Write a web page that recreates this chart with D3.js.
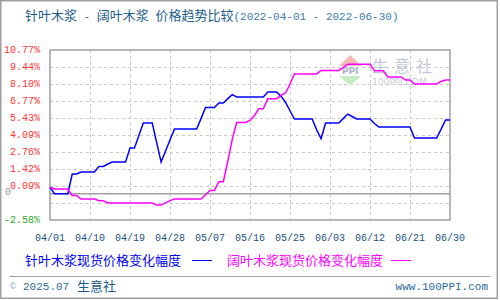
<!DOCTYPE html>
<html>
<head>
<meta charset="utf-8">
<script src="https://cdnjs.cloudflare.com/ajax/libs/d3/7.8.5/d3.min.js"></script>
<style>
	html, body { margin: 0; padding: 0; background: #fff; }
	svg { display: block; }
	.cjk { font-family: "Noto Sans CJK SC", sans-serif; }
	.mono { font-family: "Liberation Mono", "DejaVu Sans Mono", monospace; }
</style>
</head>
<body>
<div id="chart"></div>
<script>
/*jshint esversion: 6 */

// date range of the comparison
var startDate = "2022-04-01";
var endDate = "2022-06-30";

// series names
var seriesNames = ["针叶木浆现货价格变化幅度", "阔叶木浆现货价格变化幅度"];

// daily change in % since 04/01 (针叶木浆)
var softwood = [
	0.00, -0.51, -0.51, -0.51, -0.51, 1.03, 1.03, 1.19, 1.19, 1.19,
	1.19, 1.63, 1.63, 1.82, 1.97, 1.97, 1.97, 1.97, 3.07, 3.07,
	4.05, 5.04, 5.04, 5.04, 3.50, 1.97, 2.84, 3.70, 4.57, 4.57,
	4.57, 4.57, 4.57, 4.57, 5.40, 6.26, 6.26, 6.26, 6.61, 6.61,
	6.95, 7.26, 7.08, 7.08, 7.08, 7.08, 7.08, 7.08, 7.08, 7.47,
	7.47, 7.47, 7.13, 6.65, 6.00, 5.35, 5.35, 5.35, 5.35, 5.35,
	4.50, 3.80, 5.04, 5.04, 5.04, 5.04, 5.40, 5.74, 5.55, 5.35,
	5.35, 5.35, 5.35, 5.00, 4.72, 4.72, 4.72, 4.72, 4.72, 4.72,
	4.72, 4.72, 3.86, 3.86, 3.86, 3.86, 3.86, 3.86, 4.55, 5.27,
	5.27
];

// daily change in % since 04/01 (阔叶木浆)
var hardwood = [
	0.00, -0.15, -0.15, -0.15, -0.15, -0.65, -0.65, -0.93, -0.93, -0.93,
	-0.93, -1.06, -1.06, -1.24, -1.24, -1.24, -1.24, -1.24, -1.24, -1.24,
	-1.24, -1.24, -1.24, -1.24, -1.40, -1.40, -1.24, -1.06, -0.93, -0.93,
	-0.93, -0.93, -0.93, -0.93, -0.93, -0.60, -0.26, -0.26, 0.43, 0.43,
	2.02, 3.73, 5.08, 5.08, 5.08, 5.24, 5.63, 6.16, 6.16, 6.95,
	6.95, 6.95, 7.21, 7.39, 8.10, 8.89, 8.89, 8.89, 8.89, 8.89,
	8.89, 9.17, 9.17, 9.17, 9.17, 9.17, 9.40, 9.65, 9.65, 9.65,
	9.65, 9.65, 9.65, 9.14, 9.14, 9.14, 8.65, 8.65, 8.65, 8.65,
	8.41, 8.41, 8.10, 8.10, 8.10, 8.10, 8.10, 8.10, 8.30, 8.41,
	8.41
];

// y ticks (evenly spaced from min to max) and their labels
var yTicks = [-2.58, -1.245, 0.09, 1.425, 2.76, 4.095, 5.43, 6.765, 8.10, 9.435, 10.77];
var yLabels = ["-2.58%", "", "0.09%", "1.42%", "2.76%", "4.09%", "5.43%", "6.77%", "8.10%", "9.44%", "10.77%"];
// the "0" reference line sits here on the chart's own scale
var baseLine = -0.51;

// x tick labels, one every 9 days
var xLabels = ["04/01", "04/10", "04/19", "04/28", "05/07", "05/16", "05/25", "06/03", "06/12", "06/21", "06/30"];


var width = 500, height = 300;
var plot = { left: 50, right: 450, top: 50, bottom: 220 };

var parse = d3.timeParse("%Y-%m-%d");
var t0 = parse(startDate), t1 = parse(endDate);
var days = softwood.map(function(d, i) { return d3.timeDay.offset(t0, i); });
var xTickDates = xLabels.map(function(d, i) { return d3.timeDay.offset(t0, i * 9); });

var xScale = d3.scaleTime().domain([t0, t1]).range([plot.left, plot.right]);
var yScale = d3.scaleLinear().domain([yTicks[0], yTicks[yTicks.length - 1]]).range([plot.bottom, plot.top]);

var svg = d3.select("#chart").append("svg")
	.attr("width", width)
	.attr("height", height);

// outer border
svg.append("rect")
	.attr("x", 0.75).attr("y", 0.75)
	.attr("width", 496.5).attr("height", 297.5)
	.attr("fill", "#fff")
	.attr("stroke", "#a0a0a0")
	.attr("stroke-width", 1.5);


//************ TITLE ************

var title = svg.append("text")
	.attr("x", 25).attr("y", 20)
	.attr("fill", "#1c5d8c");
title.append("tspan").attr("class", "cjk").attr("font-size", 13).text("针叶木浆");
title.append("tspan").attr("class", "mono").attr("font-size", 11).attr("xml:space", "preserve").text(" - ");
title.append("tspan").attr("class", "cjk").attr("font-size", 13).text("阔叶木浆");
title.append("tspan").attr("class", "mono").attr("font-size", 11).attr("xml:space", "preserve").text(" ");
title.append("tspan").attr("class", "cjk").attr("font-size", 13).text("价格趋势比较");
title.append("tspan").attr("class", "mono").attr("font-size", 11).attr("fill", "#3b7bb0")
	.attr("xml:space", "preserve")
	.text("(" + startDate + " - " + endDate + ")");


//************ GRID ************

var grid = svg.append("g").attr("class", "grid")
	.attr("stroke", "#c8c8c8")
	.attr("stroke-dasharray", "3,3")
	.attr("stroke-width", 1);

grid.selectAll(".h").data(yTicks.slice(1, -1)).enter().append("line")
	.attr("x1", plot.left).attr("x2", plot.right)
	.attr("y1", function(d) { return Math.round(yScale(d)) + 0.5; })
	.attr("y2", function(d) { return Math.round(yScale(d)) + 0.5; });

grid.selectAll(".v").data(xTickDates.slice(1, -1)).enter().append("line")
	.attr("y1", plot.top).attr("y2", plot.bottom)
	.attr("x1", function(d) { return Math.round(xScale(d)) + 0.5; })
	.attr("x2", function(d) { return Math.round(xScale(d)) + 0.5; });


//************ WATERMARK ************

var wm = svg.append("g").attr("class", "watermark");
wm.append("path").attr("d", "M339,66 L361.5,66 L350.2,55 Z").attr("fill", "#f6b9b2");
wm.append("path").attr("d", "M339,76 L361.5,76 L350.2,85.5 Z").attr("fill", "#c6ecc6");
wm.append("text").attr("x", 350.2).attr("y", 74).attr("text-anchor", "middle")
	.attr("font-family", "DejaVu Sans, sans-serif").attr("font-weight", "bold")
	.attr("font-size", 9).attr("fill", "#a9b1c9").text("PPI");
wm.append("text").attr("class", "cjk").attr("x", 372).attr("y", 72)
	.attr("font-size", 16).attr("letter-spacing", 6).attr("fill", "#c3c8dc").text("生意社");
wm.append("text").attr("x", 372).attr("y", 85)
	.attr("font-family", "DejaVu Sans, sans-serif")
	.attr("font-size", 9).attr("fill", "#c6cad8").text("100PPI.COM");


//************ FRAME AND ZERO LINE ************

svg.append("rect")
	.attr("x", plot.left).attr("y", plot.top)
	.attr("width", plot.right - plot.left).attr("height", plot.bottom - plot.top)
	.attr("fill", "none")
	.attr("stroke", "#a0a0a0")
	.attr("stroke-width", 1.5);

svg.append("line")
	.attr("x1", plot.left).attr("x2", plot.right)
	.attr("y1", yScale(baseLine)).attr("y2", yScale(baseLine))
	.attr("stroke", "#a0a0a0")
	.attr("stroke-width", 1.5);


//************ LINES ************

var line = d3.line()
	.x(function(d, i) { return xScale(days[i]); })
	.y(function(d) { return yScale(d); });

svg.append("path").datum(softwood)
	.attr("fill", "none").attr("stroke", "#0000ff").attr("stroke-width", 1.5)
	.attr("d", line);

svg.append("path").datum(hardwood)
	.attr("fill", "none").attr("stroke", "#ff00ff").attr("stroke-width", 1.5)
	.attr("d", line);


//************ AXES LABELS ************

svg.append("g").selectAll("text").data(yTicks).enter().append("text")
	.attr("class", "mono")
	.attr("x", 40)
	.attr("y", function(d) { return yScale(d) - 1; })
	.attr("dy", "0.35em")
	.attr("text-anchor", "end")
	.attr("font-size", 10)
	.attr("fill", function(d, i) { return i === 0 ? "#2ea62e" : "#ff3333"; })
	.text(function(d, i) { return yLabels[i]; });

svg.append("text").attr("class", "mono")
	.attr("x", 5).attr("y", yScale(baseLine) - 2.5).attr("dy", "0.35em")
	.attr("font-size", 10).attr("fill", "#999")
	.text("0");

svg.append("g").selectAll("text").data(xTickDates).enter().append("text")
	.attr("class", "mono")
	.attr("x", function(d) { return xScale(d); })
	.attr("y", 241)
	.attr("text-anchor", "middle")
	.attr("font-size", 10)
	.attr("fill", "#1a5284")
	.text(function(d, i) { return xLabels[i]; });


//************ LEGEND ************

var legendItems = [
	{ name: seriesNames[0], color: "#0000ff", x: 25, lx: 192 },
	{ name: seriesNames[1], color: "#ff00ff", x: 227, lx: 391 }
];
var legend = svg.append("g").selectAll("g").data(legendItems).enter().append("g");
legend.append("text").attr("class", "cjk")
	.attr("x", function(d) { return d.x; }).attr("y", 264.5)
	.attr("font-size", 13)
	.attr("fill", function(d) { return d.color; })
	.text(function(d) { return d.name; });
legend.append("line")
	.attr("x1", function(d) { return d.lx; }).attr("x2", function(d) { return d.lx + 20; })
	.attr("y1", 260.5).attr("y2", 260.5)
	.attr("stroke", function(d) { return d.color; })
	.attr("stroke-width", 1);


//************ FOOTER ************

svg.append("line")
	.attr("x1", 9.5).attr("x2", 490.5).attr("y1", 276.5).attr("y2", 276.5)
	.attr("stroke", "#a0a0a0").attr("stroke-width", 1);

svg.append("text").attr("x", 9).attr("y", 289)
	.attr("font-family", "DejaVu Sans, sans-serif").attr("font-size", 8)
	.attr("fill", "#8fb0c8").text("©");
svg.append("text").attr("class", "mono").attr("x", 23).attr("y", 290)
	.attr("font-size", 11).attr("fill", "#2a6b9a").text("2025.07");
svg.append("text").attr("class", "cjk").attr("x", 77).attr("y", 290.5)
	.attr("font-size", 13).attr("fill", "#1a5a8a").text("生意社");
svg.append("text").attr("class", "mono").attr("x", 488).attr("y", 290)
	.attr("text-anchor", "end")
	.attr("font-size", 11).attr("fill", "#2a6b9a").text("www.100PPI.com");

</script>
</body>
</html>
